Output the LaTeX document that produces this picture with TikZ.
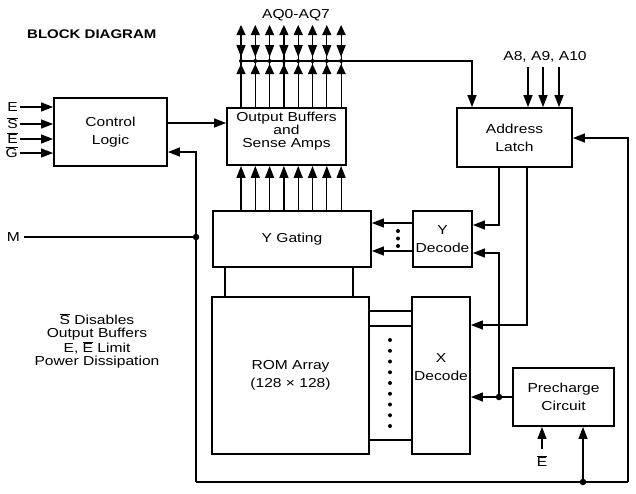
\documentclass[tikz,border=0pt]{standalone}
\usepackage{fontspec}
\setmainfont{Liberation Sans}[FakeStretch=1.2]
\usetikzlibrary{arrows.meta,calc}
\newcommand{\ovl}[1]{\ensuremath{\overline{\mbox{#1}}}}
\begin{document}
\begin{tikzpicture}[x=1pt,y=-1pt,
  box/.style={draw, line width=1.8pt, inner sep=0pt, align=center, font=\fontsize{13}{18}\selectfont},
  txt/.style={inner sep=0pt, align=center, font=\fontsize{13}{18}\selectfont},
  wire/.style={line width=1.2pt},
  arr/.style={line width=1.2pt, -{Triangle[length=12pt,width=9pt]}},
  sarr/.style={line width=1.2pt, -{Triangle[length=10pt,width=9pt]}},
  jdot/.style={circle, fill, inner sep=0pt, minimum size=6.5pt},
  bdot/.style={circle, fill, inner sep=0pt, minimum size=4pt},
]
\fill[white] (0,0) rectangle (636,493);
\useasboundingbox (0,0) rectangle (636,493);

% title
\node[txt, anchor=west, font=\bfseries\fontsize{12.5}{15}\selectfont] (title) at (27,34) {BLOCK DIAGRAM};

% boxes
\node[box, minimum width=113, minimum height=68] (cl) at (110.5,132) {Control\\Logic};
\node[box, minimum width=119, minimum height=57] (ob) at (286.5,136.5) {};
\node[txt, font=\fontsize{13}{13.2}\selectfont] (obt) at (286.5,131) {Output Buffers\\and\\Sense Amps};
\node[box, minimum width=115, minimum height=59] (al) at (514.5,137.5) {Address\\Latch};
\node[box, minimum width=158, minimum height=56] (yg) at (292,239) {Y Gating};
\node[box, minimum width=59, minimum height=56] (yd) at (442.5,239) {Y\\Decode};
\node[box, minimum width=157, minimum height=157] (rom) at (290.5,375.5) {ROM Array\\(128 × 128)};
\node[box, minimum width=58, minimum height=157] (xd) at (441,375.5) {};
\node[txt] (xdt) at (441,367) {X\\Decode};
\node[box, minimum width=101, minimum height=58] (pc) at (563.5,397) {Precharge\\Circuit};

% inputs to control logic
\node[txt, anchor=base east] (inE) at (18,111.6) {E};
\node[txt, anchor=base east] (inS) at (18,128.6) {\ovl{S}};
\node[txt, anchor=base east] (inEb) at (18,143.6) {\ovl{E}};
\node[txt, anchor=base east] (inG) at (18,157.6) {\ovl{G}};
\coordinate (pE) at (20,107);
\coordinate (pS) at (20,124);
\coordinate (pEb) at (20,139);
\coordinate (pG) at (20,153);
\draw[arr] (pE) -- (pE -| cl.west);
\draw[arr] (pS) -- (pS -| cl.west);
\draw[arr] (pEb) -- (pEb -| cl.west);
\draw[arr] (pG) -- (pG -| cl.west);

% control logic -> output buffers
\coordinate (k1) at (190,123);
\draw[arr] (cl.east |- k1) -- (ob.west |- k1);

% data lines
\foreach \i in {0,...,7} {
  \pgfmathsetmacro\xx{241+14.3*\i}
  \coordinate (d\i) at (\xx,0);
  \draw[arr] (d\i |- yg.north) -- (d\i |- ob.south);
  \draw[sarr] (d\i |- ob.north) -- (\xx,25);
  \draw[arr] (\xx,43) -- (\xx,57);
  \draw[sarr] (\xx,77) -- (\xx,64);
  \node[bdot] (bd\i) at (\xx,61) {};
}
\node[txt] (aq) at (296,15) {AQ0-AQ7};
\coordinate (bus0) at (241,61);
\coordinate (bus1) at (472,61);
\draw[arr] (bus0) -- (bus1) -- (bus1 |- al.north);

% A8 A9 A10
\node[txt] (alab) at (545,57) {A8, A9, A10};
\foreach \x in {528,543,559} {
  \coordinate (a) at (\x,67);
  \draw[arr] (a) -- (a |- al.north);
}

% M and left loop
\node[txt, anchor=base east] (mlab) at (20,241.6) {M};
\coordinate (mM) at (24,237);
\node[jdot] (jm) at (196,237) {};
\coordinate (bl) at (196,482);
\coordinate (br) at (628,482);
\coordinate (ctop) at (196,152);
\coordinate (rtop) at (628,138);
\draw[wire] (mM) -- (jm);
\draw[arr] (bl) -- (ctop) -- (ctop -| cl.east);
\draw[wire] (bl) -- (br);
\draw[arr] (br) -- (rtop) -- (rtop -| al.east);
\node[jdot] (jb) at (583,482) {};
\draw[arr] (jb) -- (jb |- pc.south);

% E-bar into precharge
\node[txt, anchor=base] (peb) at (542,466.6) {\ovl{E}};
\coordinate (pe) at (542,449);
\draw[arr] (pe) -- (pe |- pc.south);

% latch outputs
\coordinate (l1) at (499,225);
\draw[arr] (l1 |- al.south) -- (l1) -- (l1 -| yd.east);
\coordinate (l2) at (527,325);
\draw[arr] (l2 |- al.south) -- (l2) -- (l2 -| xd.east);

% precharge node
\node[jdot] (jp) at (499,397) {};
\draw[wire] (pc.west) -- (jp);
\draw[arr] (jp) -- (jp -| xd.east);
\coordinate (l3) at (499,253);
\draw[arr] (jp) -- (l3) -- (l3 -| yd.east);

% Y decode -> Y gating
\coordinate (g1) at (400,223);
\coordinate (g2) at (400,251);
\draw[arr] (yd.west |- g1) -- (yg.east |- g1);
\draw[arr] (yd.west |- g2) -- (yg.east |- g2);
\node[bdot] (yd1) at (398,231) {};
\node[bdot] (yd2) at (398,238.5) {};
\node[bdot] (yd3) at (398,246) {};

% Y gating - ROM
\coordinate (v1) at (225,280);
\coordinate (v2) at (353,280);
\draw[wire] (v1 |- yg.south) -- (v1 |- rom.north);
\draw[wire] (v2 |- yg.south) -- (v2 |- rom.north);

% ROM - X decode
\coordinate (h1) at (390,311);
\coordinate (h2) at (390,326);
\coordinate (h3) at (390,440);
\draw[wire] (rom.east |- h1) -- (xd.west |- h1);
\draw[wire] (rom.east |- h2) -- (xd.west |- h2);
\draw[wire] (rom.east |- h3) -- (xd.west |- h3);
\foreach \k in {0,...,8} {
  \node[bdot] (rd\k) at (390,{340+10.75*\k}) {};
}

% note
\node[txt, font=\fontsize{13}{13.3}\selectfont] (note) at (97,341) {\ovl{S} Disables\\Output Buffers\\E, \ovl{E} Limit\\Power Dissipation};
\end{tikzpicture}
\end{document}
